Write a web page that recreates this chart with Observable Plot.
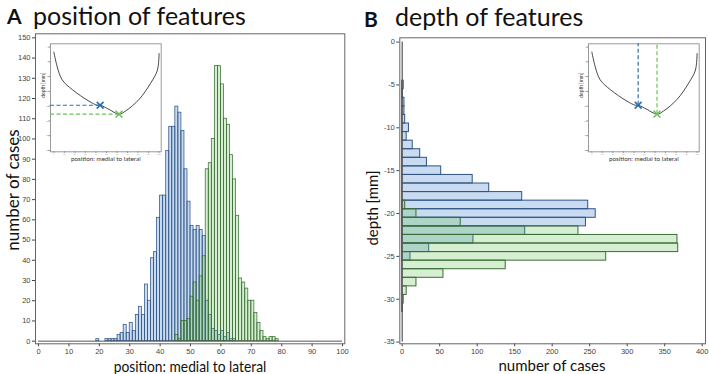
<!DOCTYPE html>
<html>
<head>
<meta charset="utf-8">
<script src="https://cdn.jsdelivr.net/npm/d3@7"></script>
<script src="https://cdn.jsdelivr.net/npm/@observablehq/plot@0.6"></script>
<style>
html,body{margin:0;padding:0;background:#fff;}
#fig{position:relative;width:709px;height:374px;overflow:hidden;font-family:Lato,"Open Sans",sans-serif;color:#111;}
#fig svg{position:absolute;overflow:visible;}
.t{position:absolute;white-space:nowrap;line-height:1;}
.c{transform:translate(-50%,-50%);}
.cn{transform:translate(-50%,-50%) scaleX(0.92);}
.r{transform:translate(-50%,-50%) rotate(-90deg);}
</style>
</head>
<body>
<div id="fig"></div>
<script>
// ---------- data: panel A (position histogram, 1-unit bins, left edges) ----------
const posBin = [19,20,21,22,23,24,25,26,27,28,29,30,31,32,33,34,35,36,37,38,39,40,41,42,43,44,45,46,47,48,49,
                50,51,52,53,54,55,56,57,58,59,60,61,62,63,64,65,66,67,68,69,70,71,72,73,74,75,76,77,78,79];
const posBlue = [1,0,0,1,1,1,1,3,4,8,4,9,5,13,17,13,28,20,41,44,61,72,72,94,106,106,116,113,104,85,69,
                 57,55,57,55,52,20,13,6,5,3,5,2,4,1,1,0,0,0,0,0,0,0,0,0,0,0,0,0,0,0];
const posGreen = [0,0,0,0,0,0,0,0,0,0,0,0,0,0,0,0,0,0,0,0,0,0,0,0,0,0,3,1,10,10,11,
                  22,29,20,32,42,85,88,100,136,136,127,110,107,92,80,62,31,29,26,20,20,14,9,5,2,1,2,2,1,0];
// ---------- data: panel B (depth histogram, 1 mm bins, centres) ----------
const depthBin = [-5,-6,-7,-8,-9,-10,-11,-12,-13,-14,-15,-16,-17,-18,-19,-20,-21,-22,-23,-24,-25,-26,-27,-28,-29,-30,-31];
const depthBlue = [2,1,3,3,4,9,6,14,24,33,52,94,116,160,248,258,245,164,95,36,11,0,0,0,0,0,0];
const depthGreen = [0,0,0,0,0,0,0,0,0,0,0,0,0,0,4,19,78,235,367,368,272,138,55,19,6,2,1];
// ---------- data: inset profile ----------
const insetPos   = [0, 3.2, 7.9, 17.5, 33.3, 41.3, 44.4, 52.4, 61.9, 68.3, 81, 92, 98.4, 100];
const insetDepth = [-1.7, -6.7, -11.1, -14.4, -18.3, -19.7, -19.7, -21.1, -22.7, -21.6, -17.7, -12.2, -7.8, -2.2];
const markPos   = [44, 61.9];
const markDepth = [-19.7, -22.7];
const markName  = ["blue", "green"];
// ---------- tick labels ----------
const posTicks = [0,10,20,30,40,50,60,70,80,90,100];
const countTicksA = [0,10,20,30,40,50,60,70,80,90,100,110,120,130,140,150];
const depthTicks = [0,-5,-10,-15,-20,-25,-30,-35];
const countTicksB = [0,50,100,150,200,250,300,350,400];

const BLUE_FILL = "#4b87cd", BLUE_OP = 0.3, BLUE_STROKE = "#2f5485";
const GREEN_FILL = "#5bbf4b", GREEN_OP = 0.25, GREEN_STROKE = "#3b6e35";
const MARK_COL = {blue: "#2e6fb0", green: "#6cc05a"};
const tickFont = "'Liberation Sans', Arial, sans-serif";

const fig = document.getElementById("fig");
function place(svg, left, top) { svg.style.left = left + "px"; svg.style.top = top + "px"; fig.appendChild(svg); }
function text(str, x, y, cls, size, weight) {
  const d = document.createElement("div");
  d.className = "t " + cls; d.textContent = str;
  d.style.left = x + "px"; d.style.top = y + "px"; d.style.fontSize = size + "px";
  if (weight) d.style.fontWeight = weight;
  fig.appendChild(d); return d;
}

// ---------- panel A ----------
const rowsA = (vals) => posBin.map((b, i) => ({x1: b, x2: b + 1, y: vals[i]})).filter(d => d.y > 0);
const plotA = Plot.plot({
  width: 355, height: 374,
  marginLeft: 35, marginRight: 10.7, marginTop: 33.3, marginBottom: 30.7,
  x: {domain: [-1, 100.75], ticks: posTicks, tickSize: 3, tickPadding: 1.5, label: null},
  y: {domain: [-1.3, 152], ticks: countTicksA, tickSize: 3, tickPadding: 2, label: null},
  style: {fontSize: "7.5px", fontFamily: tickFont, color: "#444", background: "transparent"},
  marks: [
    Plot.rectY(rowsA(posBlue), {x1: "x1", x2: "x2", y1: 0, y2: "y", fill: BLUE_FILL, fillOpacity: BLUE_OP, stroke: BLUE_STROKE, strokeWidth: 0.75}),
    Plot.rectY(rowsA(posGreen), {x1: "x1", x2: "x2", y1: 0, y2: "y", fill: GREEN_FILL, fillOpacity: GREEN_OP, stroke: GREEN_STROKE, strokeWidth: 0.75}),
    Plot.ruleY([0], {x1: 0, x2: 100, stroke: "#555", strokeWidth: 1}),
    Plot.frame({stroke: "#666"})
  ]
});
place(plotA, 0, 0);

// ---------- panel B ----------
const rowsB = (vals) => depthBin.map((d, i) => ({y1: d + 0.5, y2: d - 0.5, x: vals[i]})).filter(d => d.x > 0);
const plotB = Plot.plot({
  width: 354, height: 374,
  marginLeft: 44.3, marginRight: 4, marginTop: 37.3, marginBottom: 30.7,
  x: {domain: [-3.2, 404.4], ticks: countTicksB, tickSize: 3, tickPadding: 1.5, label: null},
  y: {domain: [-35.2, 0.5], ticks: depthTicks, tickSize: 3, tickPadding: 2, label: null, tickFormat: d => String(d)},
  style: {fontSize: "7.5px", fontFamily: tickFont, color: "#444", background: "transparent"},
  marks: [
    Plot.rectX(rowsB(depthBlue), {y1: "y1", y2: "y2", x1: 0, x2: "x", fill: BLUE_FILL, fillOpacity: BLUE_OP, stroke: BLUE_STROKE, strokeWidth: 1}),
    Plot.rectX(rowsB(depthGreen), {y1: "y1", y2: "y2", x1: 0, x2: "x", fill: GREEN_FILL, fillOpacity: GREEN_OP, stroke: GREEN_STROKE, strokeWidth: 1}),
    Plot.ruleX([0], {y1: 0, y2: -35, stroke: "#555", strokeWidth: 1.2}),
    Plot.frame({stroke: "#666"})
  ]
});
place(plotB, 355, 0);

// ---------- insets ----------
function inset(mode) {
  const curve = insetPos.map((p, i) => ({p, d: insetDepth[i]}));
  const marks = markPos.map((p, i) => ({p, d: markDepth[i], k: markName[i]}));
  const guides = mode === "h"
    ? marks.map(m => Plot.ruleY([m], {y: "d", x1: -3.2, x2: "p", stroke: MARK_COL[m.k], strokeWidth: 1.2, strokeDasharray: "4,2.5"}))
    : marks.map(m => Plot.ruleX([m], {x: "p", y1: "d", y2: 1.1, stroke: MARK_COL[m.k], strokeWidth: 1.2, strokeDasharray: "4,2.5"}));
  return Plot.plot({
    width: 125, height: 130,
    marginLeft: 10, marginTop: 5.3, marginRight: 4.3, marginBottom: 16.7,
    x: {domain: [-3.2, 102], label: null},
    y: {domain: [-35.45, 1.1], label: null},
    style: {fontSize: "2px", fontFamily: tickFont, color: "#888", background: "transparent"},
    marks: [
      Plot.frame({fill: "white", stroke: "#999"}),
      Plot.axisX({ticks: posTicks, tickSize: 1.5, tickPadding: 0.3, fontSize: 2, label: null}),
      Plot.axisY({ticks: depthTicks, tickSize: 1.5, tickPadding: 0.3, fontSize: 2, label: null, tickFormat: d => String(d)}),
      Plot.line(curve, {x: "p", y: "d", curve: "catmull-rom", stroke: "#333", strokeWidth: 0.9}),
      ...guides,
      Plot.dot(marks, {x: "p", y: "d", symbol: "times", r: 3.2, stroke: d => MARK_COL[d.k], strokeWidth: 1.6}),
      Plot.text(["position: medial to lateral"], {frameAnchor: "bottom", dy: 9, fontSize: 6.3, fill: "#333", fontFamily: "Lato, sans-serif"}),
      Plot.text(["depth [mm]"], {frameAnchor: "left", dx: -7.5, rotate: -90, fontSize: 5, fill: "#333", fontFamily: "Lato, sans-serif"})
    ]
  });
}
place(inset("h"), 40, 38);
place(inset("v"), 578.3, 38);

// ---------- titles and axis titles ----------
text("A", 7, 5, "", 21, "bold");
text("position of features", 33, 3, "", 25);
text("B", 364, 8, "", 21, "bold");
text("depth of features", 395, 4, "", 25);
text("number of cases", 12, 190, "r", 17);
text("position: medial to lateral", 190, 366, "cn", 15);
text("depth [mm]", 372, 208, "r", 15);
text("number of cases", 552, 365, "c", 15);
</script>
</body>
</html>
